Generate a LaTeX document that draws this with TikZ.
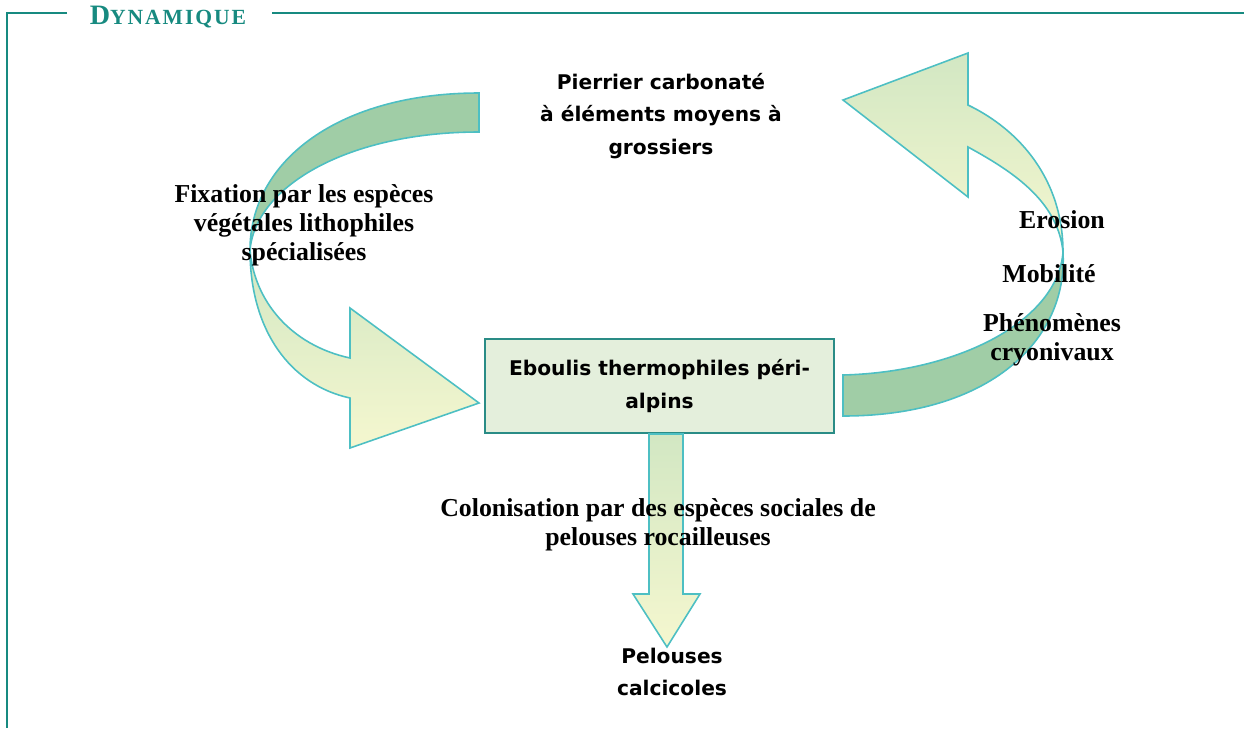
\documentclass[tikz,border=0pt]{standalone}
\usepackage{fontspec}
\setmainfont{Liberation Serif}
\newfontfamily\handfont{DejaVu Sans}
\usetikzlibrary{positioning}

\definecolor{sarcelle}{HTML}{178A80}
\definecolor{contour}{HTML}{4DBFC3}
\definecolor{vertfonce}{HTML}{A0CDA6}
\definecolor{vertclair}{HTML}{D2E7C3}
\definecolor{jaunepale}{HTML}{F5F7CF}
\definecolor{fondboite}{HTML}{E4EFDC}
\definecolor{bordboite}{HTML}{2A8C86}

\begin{document}
\begin{tikzpicture}[x=0.02cm, y=-0.02cm,
  cadre/.style={draw=sarcelle, line width=1.1pt},
  ruban/.style={draw=contour, line width=0.9pt},
  serif/.style={font=\fontsize{14.7}{16.5}\selectfont\bfseries, align=center},
  manu/.style={font=\handfont\bfseries\fontsize{11.5}{18.5}\selectfont, align=center}]
  \useasboundingbox (0,0) rectangle (1244,728);

  % Cadre et titre
  \draw[cadre] (67,13) -- (7,13) -- (7,728);
  \draw[cadre] (272,13) -- (1244,13);
  \node[anchor=base, text=sarcelle, inner sep=0pt] (titre) at (168,24)
    {\bfseries\addfontfeature{LetterSpace=9}\fontsize{16}{18}\selectfont D\fontsize{12.3}{14}\selectfont YNAMIQUE};

  % Fleche courbe de gauche
  \path[ruban, fill=vertfonce] (479,93) .. controls (340,93) and (250,160) .. (250,250)
    .. controls (256,185) and (350,132) .. (479,132) -- cycle;
  \path[ruban, top color=vertclair, bottom color=jaunepale]
    (250,250) .. controls (250,330) and (290,385) .. (350,398) -- (350,448) -- (479,403)
    -- (350,308) -- (350,358) .. controls (290,345) and (254,300) .. (250,250) -- cycle;

  % Fleche courbe de droite
  \path[ruban, fill=vertfonce] (843,375) .. controls (960,372) and (1058,320) .. (1063,252)
    .. controls (1068,340) and (990,416) .. (843,416) -- cycle;
  \path[ruban, top color=vertclair, bottom color=jaunepale]
    (1063,252) .. controls (1063,180) and (1020,130) .. (968,105) -- (968,53) -- (843,100)
    -- (968,197) -- (968,147) .. controls (1010,170) and (1058,200) .. (1063,252) -- cycle;

  % Boite centrale
  \node[draw=bordboite, fill=fondboite, line width=0.8pt, minimum width=6.98cm,
    minimum height=1.88cm, manu] (eboulis) at (659.5,386)
    {Eboulis thermophiles péri-\\alpins};

  % Fleche vers le bas
  \path[ruban, top color=vertclair, bottom color=jaunepale]
    (649,434) -- (649,594) -- (633,594) -- (667,647) -- (700,594) -- (683,594) -- (683,434) -- cycle;

  % Textes
  \node[manu] (pierrier) at (661,116) {Pierrier carbonaté\\à éléments moyens à\\grossiers};
  \node[serif] (fixation) at (304,225) {Fixation par les espèces\\végétales lithophiles\\spécialisées};
  \node[serif] (erosion) at (1062,220) {Erosion};
  \node[serif] (mobilite) at (1049,274) {Mobilité};
  \node[serif] (cryo) at (1052,340) {Phénomènes\\cryonivaux};
  \node[serif] (colonisation) at (658,525) {Colonisation par des espèces sociales de\\pelouses rocailleuses};
  \node[manu] (pelouses) at (672,672) {Pelouses\\calcicoles};
\end{tikzpicture}
\end{document}
